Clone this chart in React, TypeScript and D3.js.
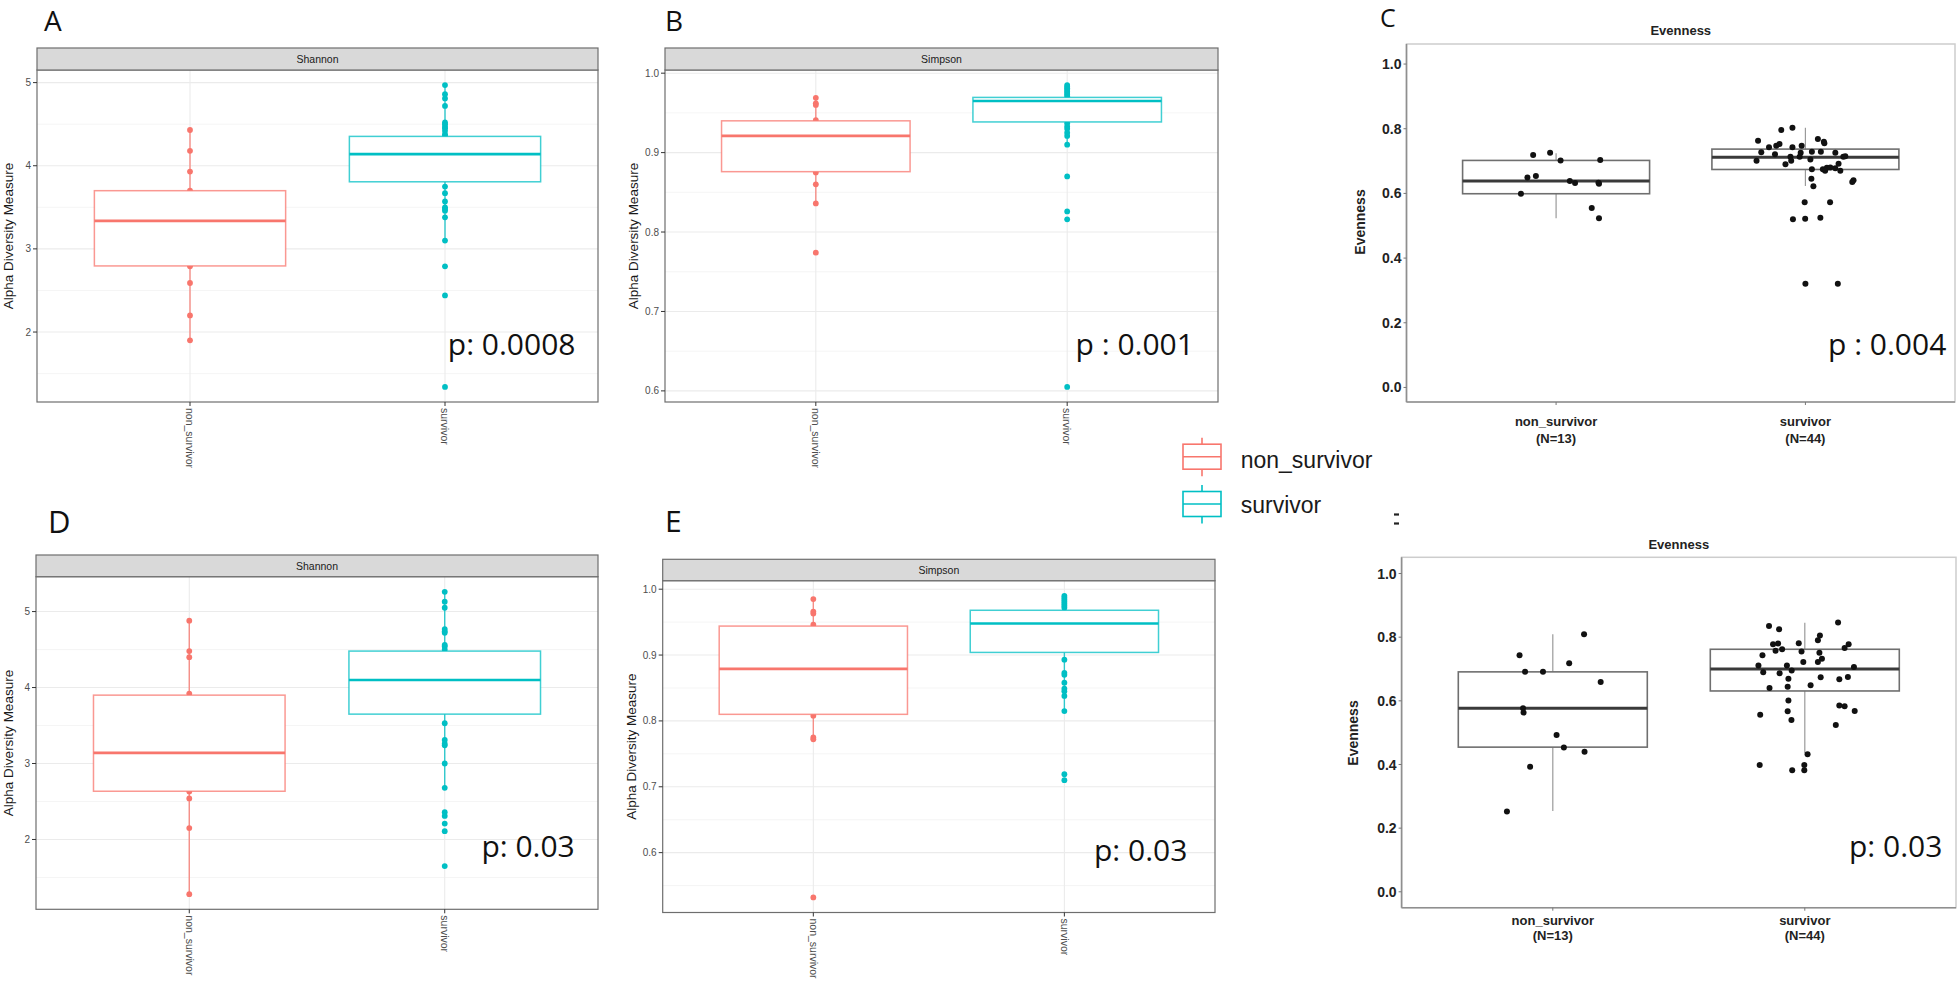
import React from "react";
import * as d3 from "d3";

const GROUPS = ["non_survivor", "survivor"];
const GROUP_COLORS = ["#F8766D", "#00BFC4"];
const EVEN_LABELS = [["non_survivor", "(N=13)"], ["survivor", "(N=44)"]];

// ---------- Panel A : Shannon ----------
const A_NON = [4.43, 4.18, 3.93, 3.7, 3.55, 3.4, 3.34, 3.15, 2.95, 2.79, 2.59, 2.2, 1.9];
const A_SURV = [4.97, 4.86, 4.81, 4.72, 4.52, 4.5, 4.47, 4.45, 4.42, 4.38, 4.36, 4.3, 4.22, 4.14, 4.05, 3.95, 3.85, 3.75, 3.67, 3.57, 3.5, 3.48, 3.46, 3.38, 3.1, 2.79, 2.44, 1.34];
const A_BOX = [
  { q1: 2.795, med: 3.337, q3: 3.7, lo: 1.9, hi: 4.43 },
  { q1: 3.807, med: 4.14, q3: 4.353, lo: 3.1, hi: 4.97 },
];
const A_TICKS = [2, 3, 4, 5];

// ---------- Panel B : Simpson ----------
const B_NON = [0.969, 0.962, 0.96, 0.941, 0.93, 0.92, 0.91, 0.9, 0.89, 0.875, 0.86, 0.836, 0.774];
const B_SURV = [0.985, 0.983, 0.981, 0.979, 0.977, 0.975, 0.973, 0.971, 0.965, 0.96, 0.955, 0.95, 0.945, 0.937, 0.933, 0.93, 0.925, 0.921, 0.91, 0.87, 0.826, 0.816, 0.605];
const B_BOX = [
  { q1: 0.876, med: 0.921, q3: 0.94, lo: 0.836, hi: 0.969 },
  { q1: 0.9386, med: 0.965, q3: 0.9695, lo: 0.91, hi: 0.985 },
];
const B_TICKS = [0.6, 0.7, 0.8, 0.9, 1.0];

// ---------- Panel D : Shannon ----------
const D_NON = [4.88, 4.48, 4.4, 3.92, 3.7, 3.5, 3.14, 2.9, 2.75, 2.63, 2.54, 2.15, 1.28];
const D_SURV = [5.26, 5.13, 5.05, 4.77, 4.74, 4.72, 4.56, 4.54, 4.5, 4.4, 4.2, 4.1, 3.9, 3.75, 3.53, 3.31, 3.26, 3.24, 3.0, 2.68, 2.36, 2.31, 2.21, 2.11, 1.65];
const D_BOX = [
  { q1: 2.635, med: 3.14, q3: 3.9, lo: 1.28, hi: 4.88 },
  { q1: 3.65, med: 4.1, q3: 4.48, lo: 2.68, hi: 5.26 },
];
const D_TICKS = [2, 3, 4, 5];

// ---------- Panel E : Simpson ----------
const E_NON = [0.985, 0.966, 0.963, 0.946, 0.93, 0.9, 0.879, 0.86, 0.83, 0.808, 0.775, 0.772, 0.532];
const E_SURV = [0.99, 0.987, 0.984, 0.981, 0.978, 0.975, 0.972, 0.96, 0.95, 0.94, 0.93, 0.92, 0.893, 0.873, 0.87, 0.858, 0.849, 0.845, 0.838, 0.815, 0.719, 0.71];
const E_BOX = [
  { q1: 0.81, med: 0.879, q3: 0.944, lo: 0.773, hi: 0.985 },
  { q1: 0.904, med: 0.948, q3: 0.968, lo: 0.815, hi: 0.99 },
];
const E_TICKS = [0.6, 0.7, 0.8, 0.9, 1.0];

// ---------- Panel C : Evenness ----------
const C_NON = [0.719, 0.726, 0.702, 0.703, 0.649, 0.654, 0.638, 0.632, 0.63, 0.599, 0.555, 0.523, 0.633];
const C_NON_JIT = [-0.092, -0.024, 0.018, 0.177, -0.115, -0.081, 0.055, 0.076, 0.172, -0.141, 0.143, 0.172, 0.17];
const C_SURV = [0.763, 0.796, 0.803, 0.768, 0.76, 0.755, 0.743, 0.747, 0.753, 0.743, 0.747, 0.727, 0.721, 0.729, 0.729, 0.726, 0.713, 0.726, 0.713, 0.713, 0.701, 0.701, 0.675, 0.675, 0.679, 0.67, 0.678, 0.67, 0.692, 0.645, 0.622, 0.641, 0.635, 0.573, 0.573, 0.52, 0.522, 0.525, 0.321, 0.321, 0.705, 0.69, 0.68, 0.715];
const C_SURV_JIT = [-0.19, -0.097, -0.052, 0.05, 0.074, 0.076, -0.146, -0.117, -0.104, -0.052, -0.015, -0.177, -0.122, 0.026, 0.062, 0.12, 0.152, -0.019, -0.023, -0.06, -0.196, -0.057, 0.026, 0.07, 0.086, 0.079, 0.12, 0.14, 0.133, 0.024, 0.032, 0.193, 0.188, -0.003, 0.099, -0.05, -0.001, 0.06, 0, 0.13, 0.02, -0.08, 0.1, 0.16];
const C_BOX = [
  { q1: 0.599, med: 0.638, q3: 0.702, lo: 0.523, hi: 0.724 },
  { q1: 0.674, med: 0.712, q3: 0.737, lo: 0.623, hi: 0.803 },
];
const EVEN_TICKS = [0, 0.2, 0.4, 0.6, 0.8, 1.0];

// ---------- Panel F : Evenness ----------
const F_NON = [0.743, 0.691, 0.691, 0.718, 0.809, 0.659, 0.577, 0.563, 0.493, 0.453, 0.44, 0.393, 0.2525];
const F_NON_JIT = [-0.132, -0.11, -0.039, 0.065, 0.124, 0.19, -0.118, -0.116, 0.015, 0.044, 0.126, -0.09, -0.182];
const F_SURV = [0.835, 0.825, 0.846, 0.805, 0.79, 0.778, 0.78, 0.781, 0.778, 0.766, 0.743, 0.757, 0.762, 0.755, 0.751, 0.711, 0.69, 0.687, 0.711, 0.695, 0.722, 0.722, 0.732, 0.674, 0.668, 0.675, 0.706, 0.669, 0.64, 0.644, 0.649, 0.601, 0.567, 0.556, 0.54, 0.585, 0.583, 0.568, 0.524, 0.432, 0.398, 0.382, 0.398, 0.382];
const F_SURV_JIT = [-0.142, -0.102, 0.132, 0.06, 0.052, -0.126, -0.106, -0.024, 0.174, 0.158, -0.168, -0.116, -0.09, -0.013, 0.058, -0.184, -0.165, -0.1, -0.071, -0.052, -0.006, 0.052, 0.068, 0.063, 0.137, 0.171, 0.195, -0.065, -0.14, -0.068, 0.023, -0.065, -0.068, -0.177, -0.053, 0.137, 0.158, 0.198, 0.123, 0.011, -0.179, -0.05, -0.002, -0.002];
const F_BOX = [
  { q1: 0.4545, med: 0.577, q3: 0.691, lo: 0.2535, hi: 0.809 },
  { q1: 0.631, med: 0.7, q3: 0.762, lo: 0.435, hi: 0.845 },
];

const GG_FONT = "'Liberation Sans', Arial, Helvetica, sans-serif";
const P_FONT = "'Open Sans', 'Noto Sans', sans-serif";

type Box = { q1: number; med: number; q3: number; lo: number; hi: number };

function GGPanel(props: any) {
  const { L, vals, box, ticks, fmt, strip } = props;
  const all: number[] = ([] as number[]).concat(...vals);
  const mn = d3.min(all) as number;
  const mx = d3.max(all) as number;
  const pad = (mx - mn) * 0.05;
  const y = d3.scaleLinear().domain([mn - pad, mx + pad]).range([L.bottom, L.top]);
  const x = d3.scalePoint<string>().domain(GROUPS).range([L.left, L.right]).padding(0.6);
  const bw = x.step() * 0.75;
  const [d0, d1] = y.domain();
  const stp = ticks[1] - ticks[0];
  const minor = d3
    .range(ticks[0] - stp / 2, d1, stp)
    .filter((v) => v > d0 && v < d1);
  const f = d3.format(fmt);
  return (
    <g>
      {minor.map((v, i) => (
        <line key={"mi" + i} x1={L.left} x2={L.right} y1={y(v)} y2={y(v)} stroke="#f2f2f2" strokeWidth={0.8} />
      ))}
      {ticks.map((v: number, i: number) => (
        <line key={"ma" + i} x1={L.left} x2={L.right} y1={y(v)} y2={y(v)} stroke="#ebebeb" strokeWidth={1.1} />
      ))}
      {GROUPS.map((g) => (
        <line key={"vg" + g} x1={x(g)} x2={x(g)} y1={L.top} y2={L.bottom} stroke="#ebebeb" strokeWidth={1.1} />
      ))}
      {vals.map((arr: number[], gi: number) =>
        arr.map((v, i) => (
          <circle key={gi + "p" + i} cx={x(GROUPS[gi])} cy={y(v)} r={2.9} fill={GROUP_COLORS[gi]} />
        ))
      )}
      {box.map((b: Box, gi: number) => {
        const cx = x(GROUPS[gi]) as number;
        const c = GROUP_COLORS[gi];
        return (
          <g key={"b" + gi}>
            <line x1={cx} x2={cx} y1={y(b.hi)} y2={y(b.q3)} stroke={c} strokeWidth={1.4} strokeOpacity={0.8} />
            <line x1={cx} x2={cx} y1={y(b.q1)} y2={y(b.lo)} stroke={c} strokeWidth={1.4} strokeOpacity={0.8} />
            <rect x={cx - bw / 2} y={y(b.q3)} width={bw} height={y(b.q1) - y(b.q3)} fill="#fff" stroke={c} strokeWidth={1.5} strokeOpacity={0.75} />
            <line x1={cx - bw / 2} x2={cx + bw / 2} y1={y(b.med)} y2={y(b.med)} stroke={c} strokeWidth={2.6} />
          </g>
        );
      })}
      <rect x={L.left} y={L.top} width={L.right - L.left} height={L.bottom - L.top} fill="none" stroke="#6e6e6e" strokeWidth={1.2} />
      <rect x={L.left} y={L.stripTop} width={L.right - L.left} height={L.top - L.stripTop} fill="#d9d9d9" stroke="#6e6e6e" strokeWidth={1.2} />
      <text x={(L.left + L.right) / 2} y={(L.top + L.stripTop) / 2} dy="0.35em" textAnchor="middle" fontSize={10.5} fill="#1a1a1a">
        {strip}
      </text>
      {ticks.map((v: number, i: number) => (
        <g key={"yt" + i}>
          <line x1={L.left - 4} x2={L.left} y1={y(v)} y2={y(v)} stroke="#333" strokeWidth={1} />
          <text x={L.left - 6} y={y(v)} dy="0.35em" textAnchor="end" fontSize={10} fill="#4d4d4d">
            {f(v)}
          </text>
        </g>
      ))}
      <text transform={`translate(${L.yTitleX},${(L.top + L.bottom) / 2}) rotate(-90)`} dy="0.35em" textAnchor="middle" fontSize={13.5} fill="#1a1a1a">
        Alpha Diversity Measure
      </text>
      {GROUPS.map((g) => (
        <g key={"xt" + g}>
          <line x1={x(g)} x2={x(g)} y1={L.bottom} y2={L.bottom + 4} stroke="#333" strokeWidth={1} />
          <text transform={`translate(${x(g)},${L.bottom + 6}) rotate(90)`} dy="0.35em" textAnchor="start" fontSize={10.5} fill="#4d4d4d">
            {g}
          </text>
        </g>
      ))}
    </g>
  );
}

function EvenPanel(props: any) {
  const { L, vals, jit, box } = props;
  const y = d3.scaleLinear().domain(L.domain).range([L.bottom, L.top]);
  const x = d3.scalePoint<string>().domain(GROUPS).range([L.left, L.right]).padding(0.6);
  const step = x.step();
  const bw = step * 0.75;
  return (
    <g>
      <rect x={L.left} y={L.top} width={L.right - L.left} height={L.bottom - L.top} fill="none" stroke="#cdcdcd" strokeWidth={1.5} />
      <line x1={L.left} x2={L.left} y1={L.top} y2={L.bottom} stroke="#8f8f8f" strokeWidth={1.6} />
      <line x1={L.left} x2={L.right} y1={L.bottom} y2={L.bottom} stroke="#8f8f8f" strokeWidth={1.6} />
      <text x={(L.left + L.right) / 2} y={L.titleY} dy="0.35em" textAnchor="middle" fontSize={13} fontWeight="bold" fill="#222">
        Evenness
      </text>
      {box.map((b: Box, gi: number) => {
        const cx = x(GROUPS[gi]) as number;
        return (
          <g key={"eb" + gi}>
            <line x1={cx} x2={cx} y1={y(b.hi)} y2={y(b.q3)} stroke="#9a9a9a" strokeWidth={1.2} />
            <line x1={cx} x2={cx} y1={y(b.q1)} y2={y(b.lo)} stroke="#9a9a9a" strokeWidth={1.2} />
            <rect x={cx - bw / 2} y={y(b.q3)} width={bw} height={y(b.q1) - y(b.q3)} fill="none" stroke="#6f6f6f" strokeWidth={1.6} />
            <line x1={cx - bw / 2} x2={cx + bw / 2} y1={y(b.med)} y2={y(b.med)} stroke="#3a3a3a" strokeWidth={3} />
          </g>
        );
      })}
      {vals.map((arr: number[], gi: number) =>
        arr.map((v, i) => (
          <circle key={gi + "ep" + i} cx={(x(GROUPS[gi]) as number) + jit[gi][i] * step} cy={y(v)} r={3} fill="#111" />
        ))
      )}
      {EVEN_TICKS.map((v, i) => (
        <g key={"et" + i}>
          <line x1={L.left - 3} x2={L.left} y1={y(v)} y2={y(v)} stroke="#777" strokeWidth={1} />
          <text x={L.left - 5} y={y(v)} dy="0.36em" textAnchor="end" fontSize={14} fontWeight="bold" fill="#222">
            {d3.format(".1f")(v)}
          </text>
        </g>
      ))}
      <text transform={`translate(${L.yTitleX},${L.yTitleY}) rotate(-90)`} dy="0.35em" textAnchor="middle" fontSize={14} fontWeight="bold" fill="#222">
        Evenness
      </text>
      {GROUPS.map((g, gi) => (
        <g key={"ex" + g}>
          <line x1={x(g)} x2={x(g)} y1={L.bottom} y2={L.bottom + 3} stroke="#777" strokeWidth={1} />
          <text x={x(g)} y={L.lab1} dy="0.35em" textAnchor="middle" fontSize={13} fontWeight="bold" fill="#222">
            {EVEN_LABELS[gi][0]}
          </text>
          <text x={x(g)} y={L.lab2} dy="0.35em" textAnchor="middle" fontSize={13} fontWeight="bold" fill="#222">
            {EVEN_LABELS[gi][1]}
          </text>
        </g>
      ))}
    </g>
  );
}

const LAY_A = { left: 37, right: 598, stripTop: 48, top: 70, bottom: 402, yTitleX: 8 };
const LAY_B = { left: 665, right: 1218, stripTop: 48, top: 70, bottom: 402, yTitleX: 633.5 };
const LAY_D = { left: 36, right: 598, stripTop: 555, top: 576.7, bottom: 909.3, yTitleX: 8 };
const LAY_E = { left: 662.7, right: 1215, stripTop: 559.3, top: 580.7, bottom: 912.5, yTitleX: 631 };
const LAY_C = { left: 1406.5, right: 1955, top: 44, bottom: 402, domain: [-0.045, 1.062], titleY: 30.7, yTitleX: 1360, yTitleY: 222, lab1: 421, lab2: 438 };
const LAY_F = { left: 1401.6, right: 1956, top: 557.3, bottom: 907.7, domain: [-0.05, 1.051], titleY: 544, yTitleX: 1353, yTitleY: 733, lab1: 920.7, lab2: 935.5 };

const PANEL_LETTERS = [
  { t: "A", x: 44, y: 30.5, s: 28 },
  { t: "B", x: 665, y: 30.5, s: 28 },
  { t: "C", x: 1380, y: 27, s: 25 },
  { t: "D", x: 48, y: 532.7, s: 31 },
  { t: "E", x: 665, y: 532, s: 30 },
];
const P_LABELS = [
  { t: "p: 0.0008", x: 447.8, y: 355 },
  { t: "p : 0.001", x: 1075.6, y: 355 },
  { t: "p : 0.004", x: 1828, y: 355 },
  { t: "p: 0.03", x: 481.4, y: 857 },
  { t: "p: 0.03", x: 1094, y: 860.5 },
  { t: "p: 0.03", x: 1849, y: 857 },
];

function Legend() {
  const keyCy = [456.7, 504];
  const textCy = [460, 505];
  const cx = 1202;
  const w = 38;
  const h = 25;
  return (
    <g>
      {GROUPS.map((g, i) => (
        <g key={"lg" + g}>
          <line x1={cx} x2={cx} y1={keyCy[i] - h / 2 - 6.5} y2={keyCy[i] + h / 2 + 7} stroke={GROUP_COLORS[i]} strokeWidth={1.6} />
          <rect x={cx - w / 2} y={keyCy[i] - h / 2} width={w} height={h} fill="#fff" stroke={GROUP_COLORS[i]} strokeWidth={1.6} />
          <line x1={cx - w / 2} x2={cx + w / 2} y1={keyCy[i]} y2={keyCy[i]} stroke={GROUP_COLORS[i]} strokeWidth={1.6} />
          <text x={1240.7} y={textCy[i]} dy="0.35em" fontSize={23} fill="#1a1a1a" fontFamily={GG_FONT}>
            {g}
          </text>
        </g>
      ))}
    </g>
  );
}

export default function App() {
  return (
    <svg width={1960} height={983} style={{ position: "absolute", left: 0, top: 0, display: "block" }} fontFamily={GG_FONT}>
      <rect x={0} y={0} width={1960} height={983} fill="#fff" />
      <GGPanel L={LAY_A} vals={[A_NON, A_SURV]} box={A_BOX} ticks={A_TICKS} fmt="d" strip="Shannon" />
      <GGPanel L={LAY_B} vals={[B_NON, B_SURV]} box={B_BOX} ticks={B_TICKS} fmt=".1f" strip="Simpson" />
      <GGPanel L={LAY_D} vals={[D_NON, D_SURV]} box={D_BOX} ticks={D_TICKS} fmt="d" strip="Shannon" />
      <GGPanel L={LAY_E} vals={[E_NON, E_SURV]} box={E_BOX} ticks={E_TICKS} fmt=".1f" strip="Simpson" />
      <EvenPanel L={LAY_C} vals={[C_NON, C_SURV]} jit={[C_NON_JIT, C_SURV_JIT]} box={C_BOX} />
      <EvenPanel L={LAY_F} vals={[F_NON, F_SURV]} jit={[F_NON_JIT, F_SURV_JIT]} box={F_BOX} />
      <Legend />
      {PANEL_LETTERS.map((p) => (
        <text key={p.t} x={p.x} y={p.y} fontSize={p.s} fontFamily={P_FONT} fill="#111">
          {p.t}
        </text>
      ))}
      <line x1={1394} x2={1399} y1={514.5} y2={514.5} stroke="#222" strokeWidth={2.2} />
      <line x1={1394} x2={1399} y1={523.5} y2={523.5} stroke="#222" strokeWidth={2.2} />
      {P_LABELS.map((p, i) => (
        <text key={"p" + i} x={p.x} y={p.y} fontSize={30} fontFamily={P_FONT} fill="#111">
          {p.t}
        </text>
      ))}
    </svg>
  );
}
